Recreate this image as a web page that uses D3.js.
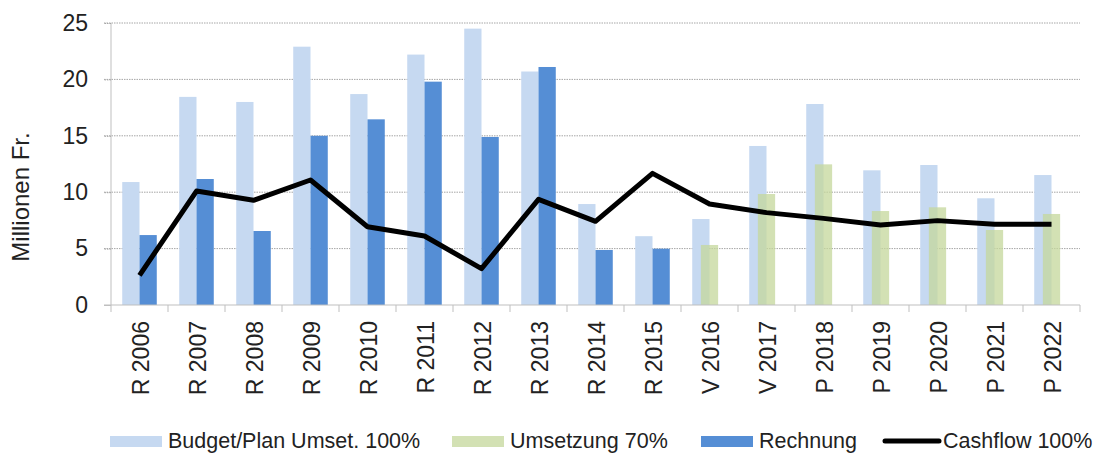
<!DOCTYPE html>
<html><head><meta charset="utf-8">
<script src="https://cdn.jsdelivr.net/npm/d3@7"></script>
<style>
body{margin:0;background:#fff;}
text{font-family:"Liberation Sans",Arial,sans-serif;fill:#222;}
</style></head>
<body><svg id="c" width="1097" height="455"></svg>
<script>
const categories = ["R 2006","R 2007","R 2008","R 2009","R 2010","R 2011","R 2012","R 2013","R 2014","R 2015","V 2016","V 2017","P 2018","P 2019","P 2020","P 2021","P 2022"];
const budget = [10.9,18.45,18.0,22.9,18.7,22.2,24.5,20.7,8.95,6.1,7.62,14.1,17.82,11.94,12.41,9.46,11.52];
const umsetzung = [null,null,null,null,null,null,null,null,null,null,5.32,9.84,12.47,8.33,8.66,6.65,8.07];
const rechnung = [6.2,11.17,6.56,15.0,16.46,19.8,14.9,21.1,4.88,4.99,null,null,null,null,null,null,null];
const cashflow = [2.63,10.1,9.28,11.08,6.94,6.12,3.22,9.37,7.42,11.67,8.95,8.19,7.68,7.09,7.48,7.15,7.15];
const yTicks = [0,5,10,15,20,25];
const seriesNames = ["Budget/Plan Umset. 100%","Umsetzung 70%","Rechnung","Cashflow 100%"];
const yTitle = "Millionen Fr.";

const svg = d3.select("#c");
const L = 111, R = 1080, T = 23, B = 305;
const x = d3.scaleBand().domain(categories).range([L, R]).padding(0);
const y = d3.scaleLinear().domain([0, 25]).range([B, T]);
const bw = x.bandwidth() * 0.303;
const cBudget = "#c6d9f1", cGreen = "#c4d79b", cRech = "#558ed5";
const FONT = "Liberation Sans, Arial, sans-serif";

// gridlines
svg.append("g").selectAll("line").data(yTicks.filter(d => d > 0)).join("line")
  .attr("x1", L - 7).attr("x2", R).attr("y1", d => y(d)).attr("y2", d => y(d))
  .attr("stroke", "#a6a6a6").attr("stroke-width", 1).attr("stroke-dasharray", "1.5,1");

// y axis
const yAx = svg.append("g").attr("transform", `translate(${L},0)`)
  .call(d3.axisLeft(y).tickValues(yTicks).tickSize(7).tickPadding(16));
yAx.select(".domain").attr("stroke", "#bfbfbf").attr("d", `M0,${B}V${T}`);
yAx.selectAll(".tick line").attr("stroke", d => d === 0 ? "#bfbfbf" : "#a6a6a6")
  .attr("stroke-dasharray", d => d === 0 ? null : "1.5,1");
yAx.selectAll(".tick text").style("font-size", "23px").attr("fill", "#222")
  .style("font-family", FONT);

// bars
const cx = d => x(d) + x.bandwidth() / 2;
svg.append("g").selectAll("rect").data(categories.map((c, i) => ({c, v: budget[i]})).filter(d => d.v != null)).join("rect")
  .attr("x", d => cx(d.c) - bw).attr("width", bw)
  .attr("y", d => y(d.v)).attr("height", d => y(0) - y(d.v)).attr("fill", cBudget);
svg.append("g").selectAll("rect").data(categories.map((c, i) => ({c, v: rechnung[i]})).filter(d => d.v != null)).join("rect")
  .attr("x", d => cx(d.c)).attr("width", bw)
  .attr("y", d => y(d.v)).attr("height", d => y(0) - y(d.v)).attr("fill", cRech);
svg.append("g").selectAll("rect").data(categories.map((c, i) => ({c, v: umsetzung[i]})).filter(d => d.v != null)).join("rect")
  .attr("x", d => cx(d.c) - bw / 2).attr("width", bw)
  .attr("y", d => y(d.v)).attr("height", d => y(0) - y(d.v)).attr("fill", cGreen).attr("fill-opacity", 0.75);

// x axis
const xAx = svg.append("g").attr("transform", `translate(0,${B})`)
  .call(d3.axisBottom(x).tickSize(0).tickFormat(d => d));
xAx.select(".domain").attr("stroke", "#bfbfbf").attr("d", `M${L - 7},0H${R}`);
xAx.selectAll(".tick text").style("font-size", "23px").attr("fill", "#222")
  .style("font-family", FONT)
  .attr("text-anchor", "end").attr("transform", "rotate(-90)")
  .attr("x", -16).attr("y", 1).attr("dy", "0.36em");
// category boundary ticks
const bounds = categories.map(c => x(c)).concat([R]);
svg.append("g").selectAll("line").data(bounds).join("line")
  .attr("x1", d => d).attr("x2", d => d).attr("y1", B).attr("y2", B + 7)
  .attr("stroke", "#bfbfbf");

// line
const line = d3.line().x((d, i) => cx(categories[i])).y(d => y(d));
svg.append("path").datum(cashflow).attr("d", line)
  .attr("fill", "none").attr("stroke", "#000").attr("stroke-width", 5).attr("stroke-linejoin", "round");

// y title
svg.append("text").attr("transform", "translate(29,197) rotate(-90)")
  .attr("text-anchor", "middle").style("font-size", "24px").text(yTitle);

// legend
const leg = svg.append("g");
const items = [
  {n: seriesNames[0], x: 110, t: "rect", c: cBudget},
  {n: seriesNames[1], x: 452, t: "rect", c: "#d3e1b4"},
  {n: seriesNames[2], x: 701, t: "rect", c: cRech},
  {n: seriesNames[3], x: 885, t: "line", c: "#000"}
];
items.forEach(it => {
  if (it.t === "rect") {
    leg.append("rect").attr("x", it.x).attr("y", 436).attr("width", 52).attr("height", 11).attr("fill", it.c);
  } else {
    leg.append("line").attr("x1", it.x).attr("x2", it.x + 54).attr("y1", 441).attr("y2", 441)
      .attr("stroke", it.c).attr("stroke-width", 5).attr("stroke-linecap", "round");
  }
  leg.append("text").attr("x", it.x + 58).attr("y", 448).style("font-size", "21.5px").text(it.n);
});
</script></body></html>
